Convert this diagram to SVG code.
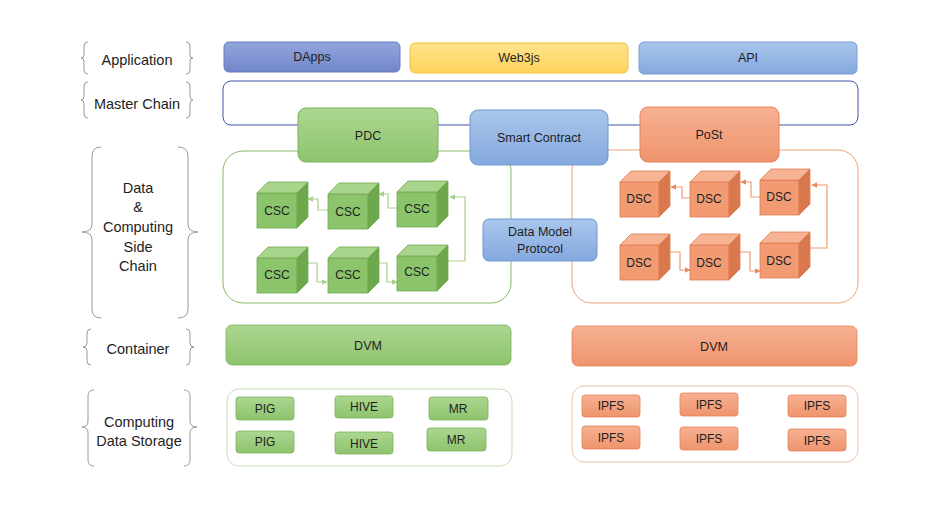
<svg xmlns="http://www.w3.org/2000/svg" xmlns:xlink="http://www.w3.org/1999/xlink" width="933" height="508" viewBox="0 0 933 508">
<style>
text{font-family:"Liberation Sans",Arial,sans-serif;fill:#1e1e1e;text-anchor:middle}
.lbl{font-size:14.5px}
.n{font-size:12.5px}
.s{font-size:12px}
.brace{fill:none;stroke:#9a9a9a;stroke-width:1}
.gline{fill:none;stroke:#a9d18e;stroke-width:1.2}
.oline{fill:none;stroke:#ee9a72;stroke-width:1.2}
</style>
<defs>
<linearGradient id="gG" x1="0" y1="0" x2="0" y2="1"><stop offset="0" stop-color="#acd690"/><stop offset="1" stop-color="#8ec36d"/></linearGradient>
<linearGradient id="gO" x1="0" y1="0" x2="0" y2="1"><stop offset="0" stop-color="#f6b192"/><stop offset="1" stop-color="#ef946d"/></linearGradient>
<linearGradient id="gB" x1="0" y1="0" x2="0" y2="1"><stop offset="0" stop-color="#a9c6ec"/><stop offset="1" stop-color="#85a9de"/></linearGradient>
<linearGradient id="gP" x1="0" y1="0" x2="0" y2="1"><stop offset="0" stop-color="#93a5dc"/><stop offset="1" stop-color="#7287ca"/></linearGradient>
<linearGradient id="gY" x1="0" y1="0" x2="0" y2="1"><stop offset="0" stop-color="#ffe28c"/><stop offset="1" stop-color="#ffd35c"/></linearGradient>
<marker id="ag" viewBox="0 0 10 10" refX="9" refY="5" markerWidth="5" markerHeight="5" orient="auto"><path d="M0,0 L10,5 L0,10 z" fill="#a9d18e"/></marker>
<marker id="ao" viewBox="0 0 10 10" refX="9" refY="5" markerWidth="5" markerHeight="5" orient="auto"><path d="M0,0 L10,5 L0,10 z" fill="#ea8a5c"/></marker>
<g id="cubeG">
<rect x="0" y="0" width="40" height="35" fill="#8cc46c" stroke="#72ab52" stroke-width="0.8"/>
<polygon points="0,0 11,-11 51,-11 40,0" fill="#a8d48c" stroke="#72ab52" stroke-width="0.8"/>
<polygon points="40,0 51,-11 51,24 40,35" fill="#6ea84c" stroke="#72ab52" stroke-width="0.8"/>
</g>
<g id="cubeO">
<rect x="0" y="0" width="39" height="35" fill="#f29a72" stroke="#e07c50" stroke-width="0.8"/>
<polygon points="0,0 11,-11 50,-11 39,0" fill="#f6b495" stroke="#e07c50" stroke-width="0.8"/>
<polygon points="39,0 50,-11 50,24 39,35" fill="#d9784c" stroke="#e07c50" stroke-width="0.8"/>
</g>
</defs>
<rect width="933" height="508" fill="#ffffff"/>

<g id="labels">
<g id="lab-app">
<path class="brace" d="M88,42 Q84,42 84,46 L84,55 Q84,58 81,58 Q84,58 84,61 L84,70 Q84,74 88,74"/>
<path class="brace" d="M186,42 Q190,42 190,46 L190,55 Q190,58 193,58 Q190,58 190,61 L190,70 Q190,74 186,74"/>
<text class="lbl" x="137" y="65">Application</text>
</g>
<g id="lab-master">
<path class="brace" d="M88,82 Q84,82 84,86 L84,96 Q84,100 81,100 Q84,100 84,104 L84,114 Q84,118 88,118"/>
<path class="brace" d="M186,82 Q190,82 190,86 L190,96 Q190,100 193,100 Q190,100 190,104 L190,114 Q190,118 186,118"/>
<text class="lbl" x="137" y="109">Master Chain</text>
</g>
<g id="lab-side">
<path class="brace" d="M101,147 Q92,147 92,156 L92,224 Q92,232 82,232 Q92,232 92,240 L92,309 Q92,318 101,318"/>
<path class="brace" d="M178,147 Q188,147 188,156 L188,224 Q188,232 198,232 Q188,232 188,240 L188,309 Q188,318 178,318"/>
<text class="lbl" x="138" y="193">Data</text>
<text class="lbl" x="138" y="212">&amp;</text>
<text class="lbl" x="138" y="232">Computing</text>
<text class="lbl" x="138" y="252">Side</text>
<text class="lbl" x="138" y="271">Chain</text>
</g>
<g id="lab-container">
<path class="brace" d="M91,329 Q87,329 87,333 L87,343 Q87,347 83,347 Q87,347 87,351 L87,361 Q87,365 91,365"/>
<path class="brace" d="M186,329 Q190,329 190,333 L190,343 Q190,347 194,347 Q190,347 190,351 L190,361 Q190,365 186,365"/>
<text class="lbl" x="138" y="354">Container</text>
</g>
<g id="lab-storage">
<path class="brace" d="M94,390 Q88,390 88,396 L88,421 Q88,427 82,427 Q88,427 88,433 L88,460 Q88,466 94,466"/>
<path class="brace" d="M184,390 Q190,390 190,396 L190,421 Q190,427 197,427 Q190,427 190,433 L190,460 Q190,466 184,466"/>
<text class="lbl" x="139" y="427">Computing</text>
<text class="lbl" x="139" y="446">Data Storage</text>
</g>
</g>

<g id="app-row">
<g id="dapps"><rect x="224" y="42" width="176" height="30" rx="5" fill="url(#gP)" stroke="#6478bf"/><text class="n" x="312" y="61">DApps</text></g>
<g id="web3js"><rect x="410" y="43" width="218" height="30" rx="5" fill="url(#gY)" stroke="#f2c040"/><text class="n" x="519" y="62">Web3js</text></g>
<g id="api"><rect x="639" y="42" width="218" height="32" rx="5" fill="url(#gB)" stroke="#7aa0d6"/><text class="n" x="748" y="62">API</text></g>
</g>

<g id="masterchain"><rect x="223" y="81" width="635" height="44" rx="8" fill="#ffffff" stroke="#3f57a8" stroke-width="1"/></g>

<g id="sidechain-green"><rect x="223" y="151" width="288" height="152" rx="20" fill="none" stroke="#87bd66" stroke-width="1"/></g>
<g id="sidechain-orange"><rect x="572" y="150" width="286" height="153" rx="20" fill="none" stroke="#f0a27c" stroke-width="1"/></g>

<g id="pdc"><rect x="298" y="108" width="140" height="54" rx="8" fill="url(#gG)" stroke="#7ab25a"/><text class="n" x="368" y="140">PDC</text></g>
<g id="smartcontract"><rect x="470" y="110" width="138" height="55" rx="8" fill="url(#gB)" stroke="#6f97d0"/><text class="n" x="539" y="142">Smart Contract</text></g>
<g id="post"><rect x="640" y="107" width="139" height="55" rx="8" fill="url(#gO)" stroke="#e8825a"/><text class="n" x="709" y="139">PoSt</text></g>
<g id="datamodel"><rect x="483" y="219" width="114" height="42" rx="6" fill="url(#gB)" stroke="#6f97d0"/><text class="n" x="540" y="236">Data Model</text><text class="n" x="540" y="253">Protocol</text></g>

<g id="connectors">
<path class="gline" marker-end="url(#ag)" d="M328,210 L318,210 L318,199 L308,199"/>
<path class="gline" marker-end="url(#ag)" d="M397,208 L388,208 L388,194 L379,194"/>
<path class="gline" marker-end="url(#ag)" d="M307,263 L317,263 L317,282 L327,282"/>
<path class="gline" marker-end="url(#ag)" d="M378,263 L387,263 L387,282 L397,282"/>
<path class="gline" marker-end="url(#ag)" d="M448,261 L465,261 L465,197 L450,197"/>
<path class="oline" marker-end="url(#ao)" d="M690,198 L682,198 L682,187 L671,187"/>
<path class="oline" marker-end="url(#ao)" d="M760,197 L751,197 L751,182 L741,182"/>
<path class="oline" marker-end="url(#ao)" d="M670,252 L680,252 L680,270 L690,270"/>
<path class="oline" marker-end="url(#ao)" d="M740,252 L750,252 L750,271 L760,271"/>
<path class="oline" marker-end="url(#ao)" d="M810,248 L827,248 L827,185 L812,185"/>
</g>

<g id="csc1" transform="translate(257,193)"><use xlink:href="#cubeG"/><text class="s" x="20" y="22">CSC</text></g>
<g id="csc2" transform="translate(328,194)"><use xlink:href="#cubeG"/><text class="s" x="20" y="22">CSC</text></g>
<g id="csc3" transform="translate(397,192)"><use xlink:href="#cubeG"/><text class="s" x="20" y="21">CSC</text></g>
<g id="csc4" transform="translate(257,258)"><use xlink:href="#cubeG"/><text class="s" x="20" y="21">CSC</text></g>
<g id="csc5" transform="translate(328,258)"><use xlink:href="#cubeG"/><text class="s" x="20" y="21">CSC</text></g>
<g id="csc6" transform="translate(397,256)"><use xlink:href="#cubeG"/><text class="s" x="20" y="20">CSC</text></g>

<g id="dsc1" transform="translate(620,182)"><use xlink:href="#cubeO"/><text class="s" x="19" y="21">DSC</text></g>
<g id="dsc2" transform="translate(690,182)"><use xlink:href="#cubeO"/><text class="s" x="19" y="21">DSC</text></g>
<g id="dsc3" transform="translate(760,180)"><use xlink:href="#cubeO"/><text class="s" x="19" y="21">DSC</text></g>
<g id="dsc4" transform="translate(620,245)"><use xlink:href="#cubeO"/><text class="s" x="19" y="22">DSC</text></g>
<g id="dsc5" transform="translate(690,245)"><use xlink:href="#cubeO"/><text class="s" x="19" y="22">DSC</text></g>
<g id="dsc6" transform="translate(760,243)"><use xlink:href="#cubeO"/><text class="s" x="19" y="22">DSC</text></g>

<g id="dvm-green"><rect x="226" y="325" width="285" height="40" rx="6" fill="url(#gG)" stroke="#7ab25a" stroke-width="0.8"/><text class="n" x="368" y="350">DVM</text></g>
<g id="dvm-orange"><rect x="572" y="326" width="285" height="40" rx="6" fill="url(#gO)" stroke="#e8825a" stroke-width="0.8"/><text class="n" x="714" y="351">DVM</text></g>

<g id="storage-green"><rect x="227" y="389" width="285" height="77" rx="12" fill="none" stroke="#c5dfb4" stroke-width="1"/></g>
<g id="storage-orange"><rect x="572" y="386" width="286" height="76" rx="12" fill="none" stroke="#f4c0a6" stroke-width="1"/></g>

<g id="pig1"><rect x="236" y="397" width="58" height="23" rx="3" fill="url(#gG)" stroke="#7ab25a" stroke-width="0.8"/><text class="s" x="265" y="413">PIG</text></g>
<g id="hive1"><rect x="335" y="396" width="58" height="22" rx="3" fill="url(#gG)" stroke="#7ab25a" stroke-width="0.8"/><text class="s" x="364" y="411">HIVE</text></g>
<g id="mr1"><rect x="429" y="397" width="59" height="23" rx="3" fill="url(#gG)" stroke="#7ab25a" stroke-width="0.8"/><text class="s" x="458" y="413">MR</text></g>
<g id="pig2"><rect x="236" y="431" width="58" height="22" rx="3" fill="url(#gG)" stroke="#7ab25a" stroke-width="0.8"/><text class="s" x="265" y="446">PIG</text></g>
<g id="hive2"><rect x="335" y="432" width="58" height="22" rx="3" fill="url(#gG)" stroke="#7ab25a" stroke-width="0.8"/><text class="s" x="364" y="448">HIVE</text></g>
<g id="mr2"><rect x="427" y="428" width="59" height="23" rx="3" fill="url(#gG)" stroke="#7ab25a" stroke-width="0.8"/><text class="s" x="456" y="444">MR</text></g>

<g id="ipfs1"><rect x="582" y="395" width="58" height="22" rx="3" fill="url(#gO)" stroke="#e8825a" stroke-width="0.8"/><text class="s" x="611" y="410">IPFS</text></g>
<g id="ipfs2"><rect x="680" y="393" width="58" height="23" rx="3" fill="url(#gO)" stroke="#e8825a" stroke-width="0.8"/><text class="s" x="709" y="409">IPFS</text></g>
<g id="ipfs3"><rect x="788" y="395" width="58" height="22" rx="3" fill="url(#gO)" stroke="#e8825a" stroke-width="0.8"/><text class="s" x="817" y="410">IPFS</text></g>
<g id="ipfs4"><rect x="582" y="426" width="58" height="23" rx="3" fill="url(#gO)" stroke="#e8825a" stroke-width="0.8"/><text class="s" x="611" y="442">IPFS</text></g>
<g id="ipfs5"><rect x="680" y="427" width="58" height="23" rx="3" fill="url(#gO)" stroke="#e8825a" stroke-width="0.8"/><text class="s" x="709" y="443">IPFS</text></g>
<g id="ipfs6"><rect x="788" y="429" width="58" height="22" rx="3" fill="url(#gO)" stroke="#e8825a" stroke-width="0.8"/><text class="s" x="817" y="445">IPFS</text></g>
</svg>
